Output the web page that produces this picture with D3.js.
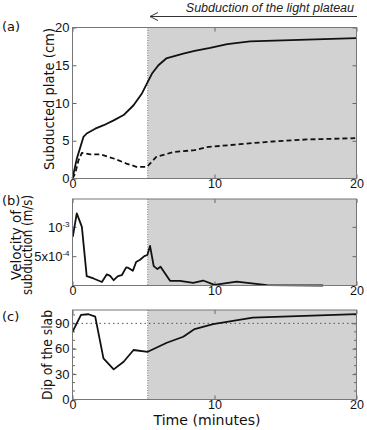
<!DOCTYPE html>
<html>
<head>
<meta charset="utf-8">
<script src="https://cdn.jsdelivr.net/npm/d3@7"></script>
<style>
  body { margin: 0; background: #fff; }
  svg { display: block; font-family: "DejaVu Sans", sans-serif; }
  .tick text { fill: #111; }
  .tick line { stroke: #666; }
  .label { fill: #111; font-size: 13px; }
</style>
</head>
<body>
<div id="graph"></div>
<script>
// Data (time in minutes)
var plateTime  = [0, 0.3, 0.77, 1.0, 1.6, 2.2, 2.9, 3.6, 4.3, 4.9, 5.3, 5.6, 6.05, 6.6, 7.8, 8.6, 9.7, 10.9, 12.5, 14.8, 20];
var plateSolid = [0, 2.6, 5.5, 5.96, 6.6, 7.06, 7.7, 8.4, 9.7, 11.3, 12.8, 13.9, 15.0, 15.9, 16.55, 16.9, 17.3, 17.8, 18.15, 18.3, 18.6];

var dashTime  = [0, 0.19, 0.42, 0.66, 1.25, 1.95, 2.9, 3.8, 4.5, 5.25, 5.9, 7.1, 8.6, 9.45, 11.8, 14.1, 16.5, 19.9];
var plateDash = [0, 0.66, 2.4, 3.4, 3.2, 3.2, 2.65, 1.98, 1.55, 1.55, 2.86, 3.5, 3.75, 4.15, 4.55, 4.9, 5.17, 5.34];

var velTime = [0.02, 0.3, 0.66, 1.0, 1.48, 2.07, 2.42, 2.65, 2.9, 3.2, 3.47, 3.78, 3.94, 4.25, 4.48, 4.76, 5.06, 5.27, 5.46, 5.72, 5.98, 6.2, 6.87, 7.57, 8.5, 9.2, 10.0, 11.56, 13.7, 17.65];
var velocity = [8.3e-4, 12.3e-4, 10e-4, 1.6e-4, 1.2e-4, 0.6e-4, 1.9e-4, 1.65e-4, 0.9e-4, 1.6e-4, 1.75e-4, 3.1e-4, 3.0e-4, 2.5e-4, 4.0e-4, 4.4e-4, 5.0e-4, 5.2e-4, 6.75e-4, 3.3e-4, 2.8e-4, 3.2e-4, 0.8e-4, 0.8e-4, 0.45e-4, 0.85e-4, 0.12e-4, 0.65e-4, 0.05e-4, 0];

var dipTime = [0, 0.6, 1.13, 1.6, 2.18, 2.9, 3.6, 4.3, 5.3, 6.64, 7.8, 8.6, 9.9, 12.7, 20];
var dip     = [80, 100, 100.8, 98, 48.6, 35.6, 44.6, 58.5, 56.4, 67.1, 74.2, 83.2, 89.2, 96.8, 101];

var plateauStart = 5.3;
var xTicks = [0, 10, 20];
var plateTicks = [0, 5, 10, 15, 20];
var velTicks = [5e-4, 1e-3];
var dipTicks = [0, 30, 60, 90];
var dipMinor = d3.range(0, 101, 10);

var width = 367, height = 430;
var left = 72.5, right = 356.5;

var svg = d3.select("#graph").append("svg")
    .attr("width", width)
    .attr("height", height);

var x = d3.scaleLinear().domain([0, 20]).range([left, right]);

// panel settings
var panels = [
  {name: "(a)", labelY: 31, top: 27.5, bottom: 178.5, domain: [0, 20], ticks: plateTicks},
  {name: "(b)", labelY: 205, top: 199, bottom: 285.5, domain: [0, 1.475e-3], ticks: velTicks},
  {name: "(c)", labelY: 321, top: 310, bottom: 399.5, domain: [0, 105.8], ticks: dipTicks}
];

panels.forEach(function(p) {
  p.y = d3.scaleLinear().domain(p.domain).range([p.bottom, p.top]);
  var g = svg.append("g");
  p.g = g;

  // shaded plateau region
  g.append("rect")
      .attr("x", x(plateauStart))
      .attr("y", p.top)
      .attr("width", right - x(plateauStart))
      .attr("height", p.bottom - p.top)
      .style("fill", "#d2d2d2");

  g.append("line")
      .attr("x1", x(plateauStart)).attr("x2", x(plateauStart))
      .attr("y1", p.top).attr("y2", p.bottom)
      .style("stroke", "#777")
      .style("stroke-width", 1)
      .style("stroke-dasharray", "1,1.5");
});

// axes helper
function drawAxes(p, fmt) {
  var g = p.g;
  g.append("g")
      .attr("class", "xaxis")
      .attr("transform", "translate(0," + p.bottom + ")")
      .call(d3.axisBottom(x).tickValues(xTicks).tickSize(-4).tickPadding(1))
      .call(function(s) { s.select(".domain").remove(); });
  g.append("g")
      .attr("transform", "translate(0," + p.top + ")")
      .call(d3.axisTop(x).tickValues(xTicks).tickSize(-4).tickFormat(""))
      .call(function(s) { s.select(".domain").remove(); });
  var yl = g.append("g")
      .attr("transform", "translate(" + left + ",0)")
      .call(d3.axisLeft(p.y).tickValues(p.ticks).tickSize(-4).tickPadding(3).tickFormat(fmt || d3.format("d")))
      .call(function(s) { s.select(".domain").remove(); });
  g.append("g")
      .attr("transform", "translate(" + right + ",0)")
      .call(d3.axisRight(p.y).tickValues(p.ticks).tickSize(-4).tickFormat(""))
      .call(function(s) { s.select(".domain").remove(); });
  g.selectAll(".tick text").style("font-size", "13px");
  g.selectAll(".xaxis .tick text").style("font-size", "12.5px");
  return yl;
}

var pa = panels[0], pb = panels[1], pc = panels[2];

drawAxes(pa);
var ybAxis = drawAxes(pb, function() { return ""; });
drawAxes(pc);

// superscript labels for velocity axis
ybAxis.selectAll(".tick text").each(function(d) {
  var t = d3.select(this);
  if (d === 1e-3) {
    t.append("tspan").text("10");
  } else {
    t.append("tspan").text("5x10");
  }
  t.append("tspan").attr("dy", -5).style("font-size", "8px").text(d === 1e-3 ? "-3" : "-4");
});

// minor ticks on dip panel
[left, right].forEach(function(xx, i) {
  pc.g.selectAll(null)
      .data(dipMinor)
      .enter().append("line")
      .attr("x1", xx).attr("x2", xx + (i === 0 ? 2.5 : -2.5))
      .attr("y1", function(d) { return pc.y(d); })
      .attr("y2", function(d) { return pc.y(d); })
      .style("stroke", "#666");
});

// reference dip of 90 degrees
pc.g.append("line")
    .attr("x1", left).attr("x2", right)
    .attr("y1", pc.y(90)).attr("y2", pc.y(90))
    .style("stroke", "#555")
    .style("stroke-width", 1)
    .style("stroke-dasharray", "1.5,3");

// lines
function addLine(g, xs, ys, yScale, dash) {
  var pts = xs.map(function(d, i) { return [d, ys[i]]; });
  g.append("path")
      .datum(pts)
      .attr("d", d3.line()
          .x(function(d) { return x(d[0]); })
          .y(function(d) { return yScale(d[1]); }))
      .style("fill", "none")
      .style("stroke", "#111")
      .style("stroke-width", 1.8)
      .style("stroke-linejoin", "round")
      .style("stroke-dasharray", dash || null);
}

addLine(pa.g, plateTime, plateSolid, pa.y);
addLine(pa.g, dashTime, plateDash, pa.y, "5,3");
addLine(pb.g, velTime, velocity, pb.y);
addLine(pc.g, dipTime, dip, pc.y);

// frames
panels.forEach(function(p) {
  p.g.append("rect")
      .attr("x", left).attr("y", p.top)
      .attr("width", right - left).attr("height", p.bottom - p.top)
      .style("fill", "none")
      .style("stroke", "#777")
      .style("stroke-width", 1);

  svg.append("text")
      .attr("class", "label")
      .attr("x", 2)
      .attr("y", p.labelY)
      .style("font-size", "13px")
      .text(p.name);
});

// axis labels
function yLabel(text, cx, cy, len) {
  svg.append("g")
      .attr("transform", "translate(" + cx + "," + cy + ") rotate(-90)")
    .append("text")
      .attr("class", "label")
      .attr("text-anchor", "middle")
      .attr("x", 0)
      .attr("y", 0)
      .attr("textLength", len)
      .attr("lengthAdjust", "spacingAndGlyphs")
      .style("font-size", "14px")
      .text(text);
}

yLabel("Subducted plate (cm)", 54, 99, 142);
yLabel("Velocity of", 21, 245, 70);
yLabel("subduction (m/s)", 32, 245, 100);
yLabel("Dip of the slab", 52, 355, 90);

svg.append("text")
    .attr("class", "label")
    .attr("text-anchor", "middle")
    .attr("x", 207)
    .attr("y", 425)
    .attr("textLength", 107)
    .attr("lengthAdjust", "spacingAndGlyphs")
    .style("font-size", "14px")
    .text("Time (minutes)");

// annotation on top
svg.append("text")
    .attr("x", 354)
    .attr("y", 12)
    .attr("text-anchor", "end")
    .style("font-family", "'Liberation Sans', Arial, sans-serif")
    .style("font-style", "italic")
    .style("font-size", "12.5px")
    .style("fill", "#222")
    .text("Subduction of the light plateau");

svg.append("path")
    .attr("d", "M150,16.5H357 M150,16.5L158,12.5 M150,16.5L158,20.5")
    .style("fill", "none")
    .style("stroke", "#333")
    .style("stroke-width", 1);
</script>
</body>
</html>
